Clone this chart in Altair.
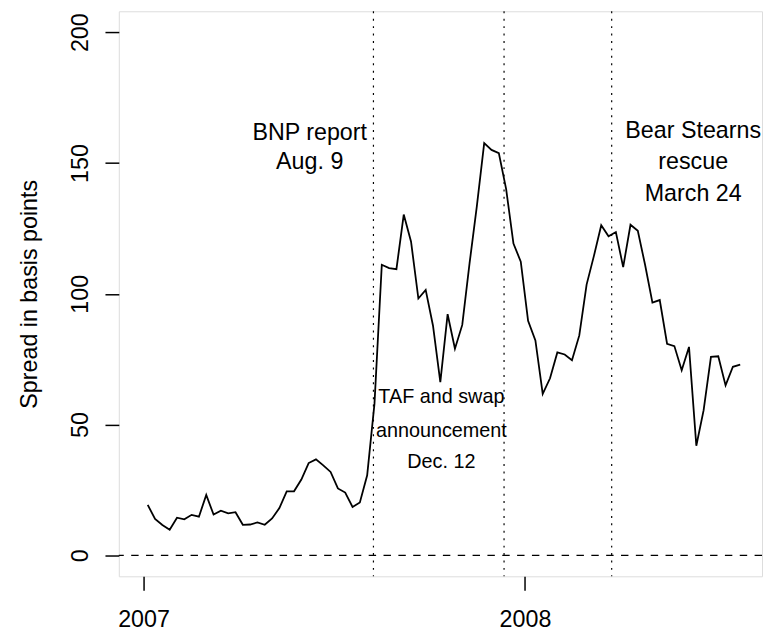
import altair as alt
import pandas as pd

# Weekly observations (first week ending 2007-01-05)
start_date = "2007-01-05"
spread_bp = [
    19.3, 13.9, 11.6, 9.8, 14.4, 13.8, 15.5, 14.8, 23.1, 15.6,
    17.1, 16.1, 16.5, 11.7, 11.8, 12.6, 11.7, 14.1, 18.1, 24.5,
    24.5, 29.0, 35.3, 36.7, 34.4, 31.9, 25.6, 24.0, 18.5, 20.2,
    30.6, 58.0, 111.1, 109.8, 109.4, 130.3, 119.9, 98.2, 101.5, 87.8,
    66.2, 92.2, 79.0, 88.1, 111.7, 133.6, 157.6, 155.0, 153.8, 140.0,
    119.2, 112.3, 89.7, 82.2, 61.7, 67.7, 77.6, 76.8, 74.6, 84.1,
    103.5, 114.5, 126.2, 122.0, 123.6, 110.2, 126.4, 124.1, 111.0, 96.6,
    97.6, 80.9, 80.0, 70.8, 79.7, 41.9, 55.5, 75.9, 76.1, 65.0,
    72.1, 72.9,
]

event_dates = ["2007-08-09", "2007-12-12", "2008-03-24"]

big_labels = ["BNP report", "Aug. 9", "Bear Stearns", "rescue", "March 24"]
big_dates = ["2007-06-09", "2007-06-09", "2008-06-10", "2008-06-10", "2008-06-10"]
big_values = [161.5, 150.2, 162.3, 150.2, 138.0]

small_labels = ["TAF and swap", "announcement", "Dec. 12"]
small_dates = ["2007-10-13", "2007-10-13", "2007-10-13"]
small_values = [60.7, 47.6, 35.8]

y_ticks = [0, 50, 100, 150, 200]

dates = pd.date_range(start=start_date, periods=len(spread_bp), freq="7D").strftime("%Y-%m-%d")
df = pd.DataFrame({"date": dates, "spread": spread_bp})
ev = pd.DataFrame({"date": event_dates})
zero = pd.DataFrame({"v": [0]})
big = pd.DataFrame({"date": big_dates, "v": big_values, "t": big_labels})
small = pd.DataFrame({"date": small_dates, "v": small_values, "t": small_labels})

FONT = "Liberation Sans"
W, H = 650, 571
BIG = 23.5

xscale = alt.Scale(
    type="utc",
    domain=[
        alt.DateTime(year=2006, month=12, date=8, hours=8, utc=True),
        alt.DateTime(year=2008, month=8, date=14, hours=21, utc=True),
    ],
)
yscale = alt.Scale(domain=[-8, 208], nice=False, zero=False)

xaxis = alt.Axis(
    values=[
        alt.DateTime(year=2007, month=1, date=1, utc=True),
        alt.DateTime(year=2008, month=1, date=1, utc=True),
    ],
    format="%Y",
    formatType="utc",
    title=None,
    grid=False,
    domain=False,
    tickSize=14,
    tickWidth=1.5,
    tickColor="black",
    labelFont=FONT,
    labelFontSize=BIG,
    labelColor="black",
    labelPadding=18,
    labelBaseline="top",
    labelFlush=False,
    labelOverlap=False,
)

yaxis = alt.Axis(
    values=y_ticks,
    title="Spread in basis points",
    grid=False,
    domain=False,
    tickSize=14,
    tickWidth=1.5,
    tickColor="black",
    labelFont=FONT,
    labelFontSize=BIG,
    labelColor="black",
    labelAngle=270,
    labelAlign="center",
    labelBaseline="alphabetic",
    labelPadding=18,
    labelFlush=False,
    labelOverlap=False,
    titleFont=FONT,
    titleFontSize=BIG,
    titleFontWeight="normal",
    titleColor="black",
    titleAngle=270,
    titleAlign="center",
    titleBaseline="middle",
    titleX=-90,
    titleY=H / 2,
)

line = alt.Chart(df).mark_line(color="black", strokeWidth=1.8).encode(
    x=alt.X("date:T", scale=xscale, axis=xaxis),
    y=alt.Y("spread:Q", scale=yscale, axis=yaxis),
)

zero_line = alt.Chart(zero).mark_rule(
    color="black", strokeWidth=1.4, strokeDash=[7.5, 7.5]
).encode(y="v:Q")

event_lines = alt.Chart(ev).mark_rule(
    color="black", strokeWidth=1.2, strokeDash=[2, 5.5]
).encode(x="date:T", y=alt.value(0), y2=alt.value(H))

big_text = alt.Chart(big).mark_text(
    font=FONT, fontSize=BIG, color="black", align="center", baseline="middle"
).encode(x="date:T", y="v:Q", text="t:N")

small_text = alt.Chart(small).mark_text(
    font=FONT, fontSize=20, color="black", align="center", baseline="middle"
).encode(x="date:T", y="v:Q", text="t:N")

chart = (
    alt.layer(zero_line, event_lines, line, big_text, small_text)
    .properties(
        width=W,
        height=H,
        autosize=alt.AutoSizeParams(type="none"),
        padding={"left": 112, "top": 0, "right": 2, "bottom": 56},
    )
    .configure_view(stroke="black", strokeWidth=1.5)
    .configure(background="white")
)

chart.save("out.html", embed_options={"renderer": "svg", "actions": False})
